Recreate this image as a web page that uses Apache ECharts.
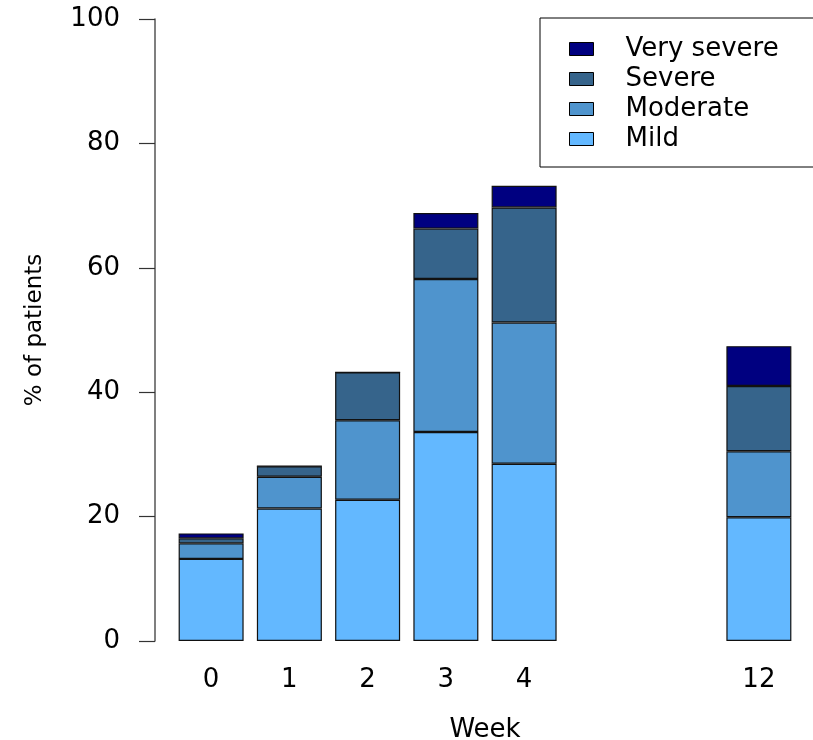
<!DOCTYPE html>
<html>
<head>
<meta charset="utf-8">
<script src="https://cdn.jsdelivr.net/npm/echarts@6/dist/echarts.min.js"></script>
<style>
  html, body { margin: 0; padding: 0; background: #fff; }
  #chart { width: 813px; height: 740px; }
</style>
</head>
<body>
<div id="chart"></div>
<script>
// weeks (two blank slots keep the gap before week 12)
var weeks = ['0', '1', '2', '3', '4', '', '', '12'];

// % of patients per severity, stacked bottom to top
var mild       = [13.2, 21.3, 22.7, 33.6, 28.5, '-', '-', 19.9];
var moderate   = [2.5, 5.1, 12.8, 24.6, 22.7, '-', '-', 10.6];
var severe     = [0.8, 1.7, 7.7, 8.1, 18.5, '-', '-', 10.5];
var verySevere = [0.8, 0, 0, 2.5, 3.5, '-', '-', 6.4];

var yTicks = [0, 20, 40, 60, 80, 100];

var font = 'DejaVu Sans';

function barSeries(name, data, color) {
  return {
    name: name,
    type: 'bar',
    stack: 'total',
    barWidth: 65,
    data: data,
    itemStyle: { color: color, borderColor: '#111', borderWidth: 1.2 }
  };
}

var chart = echarts.init(document.getElementById('chart'));
chart.setOption({
  animation: false,
  backgroundColor: '#fff',
  textStyle: { fontFamily: font },
  grid: { left: 172, right: 15, top: 19, bottom: 99, outerBoundsMode: 'none', containLabel: false },
  legend: {
    data: ['Very severe', 'Severe', 'Moderate', 'Mild'],
    orient: 'vertical',
    left: 540,
    top: 18,
    padding: [18, 60, 15, 29],
    itemWidth: 24,
    itemHeight: 13,
    itemGap: 4,
    backgroundColor: '#fff',
    borderColor: '#000',
    borderWidth: 1,
    borderRadius: 0,
    icon: 'rect',
    itemStyle: { borderColor: '#000', borderWidth: 1 },
    textStyle: { fontFamily: font, fontSize: 26, color: '#000', padding: [0, 0, 0, 27] }
  },
  xAxis: {
    type: 'category',
    data: weeks,
    name: 'Week',
    nameLocation: 'middle',
    nameGap: 76,
    nameTextStyle: { fontFamily: font, fontSize: 26, color: '#000' },
    axisLine: { show: false },
    axisTick: { show: false },
    axisLabel: { fontFamily: font, fontSize: 26, color: '#000', margin: 26, interval: 0 }
  },
  yAxis: {
    type: 'value',
    min: yTicks[0],
    max: yTicks[yTicks.length - 1],
    interval: 20,
    offset: 17,
    name: '% of patients',
    nameLocation: 'middle',
    nameGap: 108,
    nameTextStyle: { fontFamily: font, fontSize: 23, color: '#000' },
    axisLine: { show: true, lineStyle: { color: '#555', width: 1.5 } },
    axisTick: { show: true, length: 16, lineStyle: { color: '#333', width: 1.2 } },
    axisLabel: { fontFamily: font, fontSize: 26, color: '#000', margin: 35 },
    splitLine: { show: false }
  },
  series: [
    barSeries('Mild', mild, '#63B8FF'),
    barSeries('Moderate', moderate, '#4F94CD'),
    barSeries('Severe', severe, '#36648B'),
    barSeries('Very severe', verySevere, '#000080')
  ]
});
</script>
</body>
</html>
